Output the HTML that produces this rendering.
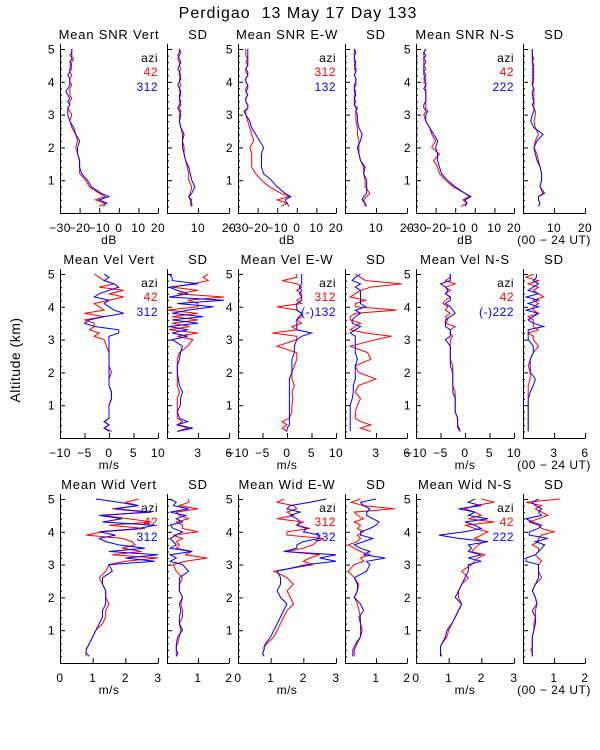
<!DOCTYPE html>
<html><head><meta charset="utf-8">
<style>
html,body{margin:0;padding:0;background:#fff;}
svg{display:block;font-family:"Liberation Sans",sans-serif;}
text{white-space:pre;}
</style></head>
<body>
<svg id="chart" width="600" height="750" viewBox="0 0 600 750" xmlns="http://www.w3.org/2000/svg">
<rect width="600" height="750" fill="#fff"/>
<text x="298" y="18" font-size="16" letter-spacing="1" text-anchor="middle" fill="#000" xml:space="preserve">Perdigao  13 May 17 Day 133</text>
<text x="0" y="0" font-size="14" letter-spacing="0.5" text-anchor="middle" transform="translate(20,360) rotate(-90)" fill="#000">Altitude (km)</text>
<g id="panels"></g>
</svg>
<script>
const altitudes=[0.2,0.3,0.4,0.5,0.6,0.8,1.0,1.2,1.4,1.6,1.8,2.0,2.2,2.4,2.6,2.8,3.0,3.1,3.2,3.3,3.4,3.5,3.6,3.7,3.8,3.9,4.0,4.1,4.2,4.3,4.4,4.5,4.6,4.7,4.8,4.9,5.0];
const altTicks=[1,2,3,4,5];
// Row 1: SNR
const snrVertRed=[-10,-7,-12,-7,-10,-15,-17,-20,-20,-20,-21,-22,-21,-22,-24,-25,-24,-25,-26,-25,-25,-24,-25,-25,-25,-24,-25,-25,-24,-25,-24,-25,-24,-23,-25,-24,-24];
const snrVertBlue=[-8,-6,-10,-5,-9,-14,-16,-19,-20,-20,-21,-21,-20,-22,-23,-25,-26,-26,-26,-25,-26,-25,-26,-27,-26,-25,-25,-25,-26,-25,-25,-24,-25,-24,-24,-24,-24];
const snrVertSdRed=[8,7.5,8,7,7.5,8,7,7,6.5,6,5.5,5.5,5,5,4.5,4,4,4.5,4,4.5,4,4,4.5,4,4,4.5,4,4,4.5,4,4.5,4,4,3.5,4,4.5,4];
const snrVertSdBlue=[8,8,7.5,7,8,9,8,7.5,7,6,5.5,5,5,5.5,4.5,4,4.5,4,3.5,4,4.5,4,4,4.5,4,3.5,4,4.5,4,4,3.5,4,4.5,4,3.5,4,4];
const snrEwRed=[-8,-5,-10,-4,-8,-14,-18,-21,-23,-23,-23,-24,-22,-23,-24,-25,-26,-26,-25,-25,-26,-26,-25,-26,-26,-25,-26,-26,-25,-26,-26,-25,-26,-25,-26,-26,-26];
const snrEwBlue=[-4,-5,-6,-3,-6,-10,-13,-17,-18,-18,-18,-17,-19,-21,-23,-24,-26,-27,-25,-25,-26,-26,-25,-26,-25,-25,-26,-26,-25,-25,-26,-25,-25,-25,-25,-25,-25];
const snrEwSdRed=[7,6.5,6,7,8,6.5,6.5,6,6,5,4.5,4.5,4.5,4,4,3.5,3.5,3.5,3.5,3,3.5,3,3,3.5,3,3.5,3.5,3.5,3,3.5,3,3.5,3,3,3,3,3];
const snrEwSdBlue=[6.5,6.5,5.5,6,7,7,7,6,6.5,5,4.5,4,5,5.5,4.5,4,4,3.5,4,3,3,3,3.5,3,3,3,3.5,3.5,3,3.5,3.5,3,3.5,3,3,3.5,3];
const snrNsRed=[-7,-4,-6,-3,-5,-11,-15,-18,-19,-21,-18,-22,-20,-22,-23,-25,-26,-25,-25,-25,-25,-25,-25,-25,-25,-25,-26,-25,-26,-26,-25,-26,-26,-26,-26,-26,-25];
const snrNsBlue=[-5,-4,-5,-2,-5,-10,-14,-17,-18,-19,-19,-20,-19,-21,-23,-25,-25,-24,-26,-26,-25,-25,-25,-25,-26,-25,-25,-26,-25,-26,-26,-26,-25,-26,-25,-26,-25];
const snrNsSdRed=[5,5.5,5,5,7,5.5,6,6,5.5,5,4.5,3.5,4,5,4,3.5,4,4,3.5,3.5,3.5,3,3.5,3.5,3.5,3,3.5,3,3.5,3,3.5,3,3,3.5,3,3,3];
const snrNsSdBlue=[5,5.5,5,5,6.5,5.5,6,6,5.5,4.5,4,3.5,4.5,6.5,3.5,2.5,3,3.5,3.5,3,3.5,3.5,3,3,3.5,3,3,3.5,3,3.5,3,3.5,3,3,3,3,3];
// Row 2: Velocity
const velVertRed=[0,-1,0,-1,0,0,0,0.5,0.5,0,0,0.5,0,0,0,-0.5,-1,-3,-2,-4,-3,-3,-5,-1,-5,-1,-2,-3,0,3,0,3,-2,1,-1,-2,-3];
const velVertBlue=[0.5,-1,0,-1,0,0,0,0.5,0.5,0,0,0,0,0,0,0,0,0,2,2,-3,-5,-4,-1,3,1,0,-1,0,-3,-2,0,2,1,-1,0,-1];
const velVertSdRed=[1,2,1,1.5,1,1,1,1,1.2,1,1,1,1,1,1.2,2,2.5,1,3,0.2,2.2,0.5,3,0.5,3,0,3,3,2,5.5,1,3,0.5,2.5,4,3.5,4];
const velVertSdBlue=[1,2.5,1,2,1.2,1,1.3,1.3,1.5,1.2,1.1,1,1,1.2,1.3,1.5,0.5,2,0.5,2,0.2,3,0.5,3.5,0.5,2,4.5,1,5.5,0.2,2,1,0.2,3,0.5,0.5,0.2];
const velEwRed=[0,-1,0,-1,0.5,1,1,1.2,1,1.5,1,1,1.5,2,2,-2,2,2,-3,2,1,3,2,3,3,2,-2,3,2,3,3,2,3,2,-1,2,2];
const velEwBlue=[0,0,0.5,0.5,0.5,0.5,0.5,0.5,0.5,0.5,0.5,1,1,1,1.5,1.5,2,3,5,2,2,2,2,2.5,3,2,2,2,3,3,2.5,3,2.5,3,3,3,3];
const velEwSdRed=[2.5,1.5,2.5,1.5,1,1,1.2,1.5,1,1.3,3,1.3,1,2.5,2.2,0.5,3,4.5,2,0.5,1,1.5,0.5,0.5,1,5,1,1,2,0.5,1,1.5,2.5,5.5,2,1.5,1];
const velEwSdBlue=[0.5,0.5,0.5,0.5,0.5,0.5,0.5,0.7,0.8,0.8,1,1,1,1.2,1,1,1,1,0.5,1,1.5,0.7,0.7,1,1.5,1,2,1.5,1.5,1.5,1.5,1.5,1,1.5,0.7,1,1.5];
const velNsRed=[-1,-1.5,-1.5,-1.5,-1.5,-2,-2,-2,-2,-2.5,-2.5,-2.5,-2.5,-3,-3,-3,-3,-2.5,-3,-3,-2,-4,-3.5,-4,-3,-4,-3.5,-4.5,-4,-3,-4,-3,-4,-2,-4,-3,-3];
const velNsBlue=[-1,-1.2,-1.5,-1.5,-1.5,-2,-2,-2,-2.5,-2.5,-2.5,-2.5,-3,-3,-3,-3,-4,-3,-3,-3,-4,-4,-4,-3,-2,-2.5,-3,-4,-3,-3,-4,-3.5,-4,-5,-3,-3,-3];
const velNsSdRed=[0.5,0.5,0.5,0.5,0.5,0.5,0.5,0.5,0.5,0.5,0.7,0.7,0.5,0.7,1,1.5,1,1,0.5,1.5,1,1,1,0.5,1.5,1,1,1.5,1,2,1.5,1,1.5,0.5,1.5,0.3,1];
const velNsSdBlue=[0.5,0.5,0.5,0.5,0.5,0.5,0.5,0.5,0.7,1,1.2,0.7,0.7,0.7,1,1,0.5,0.5,0.5,0.5,2,1,0.5,1,1.5,0.3,1.5,0.5,1.5,0.3,1.5,0.5,1,1.5,1,1.3,1.3];
// Row 3: Width
const widVertRed=[0.8,0.8,0.8,0.85,0.9,1,1.1,1.3,1.4,1.4,1.5,1.4,1.4,1.3,1.2,1.4,1.5,2,3,1.6,2.5,1.9,2.3,2.2,1.9,0.8,1.3,2.6,1.5,2.8,2.1,1.3,2.6,1.6,2.4,2,2.4];
const widVertBlue=[0.9,0.8,0.8,0.85,0.9,1,1.1,1.2,1.3,1.3,1.4,1.4,1.4,1.3,1.3,1.6,1.5,2.9,2,3,1.5,2.6,1.8,1.4,1.2,1.7,1.2,2.4,2.9,1.3,1.9,1.2,2.8,1.7,2.4,1.8,1.1];
const widVertSdRed=[0.3,0.3,0.3,0.3,0.35,0.4,0.45,0.4,0.5,0.5,0.45,0.5,0.4,0.4,0.5,0.3,0.2,0.6,1.3,0.6,0.8,0.3,0.4,0.3,0.5,0.2,1,0.5,0.5,0.3,0.7,0.4,0.3,1,0.4,0.7,0.7];
const widVertSdBlue=[0.3,0.35,0.3,0.3,0.3,0.35,0.5,0.4,0.4,0.45,0.4,0.5,0.4,0.4,0.4,0.7,0.5,0.1,0.3,0.1,0.8,0.1,0.3,0.2,0.1,0.3,0.5,0.2,0.1,0.5,0.3,0.6,0.1,0.7,0.2,0.3,0.1];
const widEwRed=[0.8,0.75,0.8,0.8,0.9,1.1,1.2,1.3,1.4,1.5,1.7,1.6,1.5,1.7,1.5,1.1,2.3,2.0,2.2,2.5,1.5,2.0,2.3,2.4,2.6,1.5,1.5,2.2,1.8,2.0,1.2,1.7,1.5,1.8,1.7,1.2,1.4];
const widEwBlue=[0.8,0.75,0.8,0.8,0.85,1.0,1.1,1.2,1.3,1.4,1.5,1.3,1.2,1.3,1.3,1.2,2.1,3.0,2.5,3.0,1.4,1.8,1.8,2.0,2.5,2.5,2.0,2.1,1.8,1.9,1.8,1.6,1.9,1.5,1.6,2.2,2.7];
const widEwSdRed=[0.3,0.3,0.3,0.35,0.4,0.5,0.5,0.5,0.5,0.45,0.4,0.3,0.4,0.45,0.3,0.1,0.3,0.6,0.5,0.8,0.5,0.3,0.1,0.4,0.5,0.4,0.6,0.4,0.5,0.3,0.6,0.4,0.3,1.6,0.6,0.2,0.5];
const widEwSdBlue=[0.25,0.25,0.25,0.3,0.35,0.5,0.55,0.5,0.45,0.6,0.5,0.3,0.4,0.4,0.3,0.7,0.8,0.7,1.3,0.6,0.8,0.5,0.3,0.6,0.9,0.5,0.5,0.8,1.0,1.1,0.9,0.7,0.7,0.8,0.6,0.5,1.0];
const widNsRed=[0.8,0.75,0.75,0.75,0.8,0.95,1.0,1.1,1.2,1.3,1.4,1.3,1.3,1.4,1.6,1.4,1.7,1.8,1.9,2.1,1.7,1.8,1.9,2.1,1.8,2.0,2.2,1.8,1.5,2.4,1.6,2.0,1.8,1.5,1.8,2.4,2.0];
const widNsBlue=[0.75,0.75,0.75,0.75,0.8,0.9,0.95,1.1,1.2,1.3,1.4,1.2,1.3,1.4,1.5,1.6,1.6,2.0,1.6,2.0,1.6,1.7,1.6,2.2,1.3,0.7,1.5,2.0,1.8,1.5,2.2,1.6,1.8,1.3,2.0,1.6,1.8];
const widNsSdRed=[0.3,0.3,0.25,0.3,0.3,0.3,0.35,0.35,0.4,0.4,0.45,0.4,0.3,0.4,0.6,0.5,0.5,0.6,0.5,0.4,0.5,0.5,0.3,0.5,0.5,0.6,1.0,0.6,0.5,0.2,0.5,0.8,0.6,0.4,0.6,0.1,1.2];
const widNsSdBlue=[0.3,0.3,0.3,0.3,0.3,0.3,0.35,0.4,0.4,0.3,0.45,0.4,0.3,0.4,0.5,0.5,0.5,0.1,0.1,0.4,0.5,0.6,0.7,0.4,0.8,0.2,0.2,0.5,0.6,0.3,0.1,0.6,0.5,0.6,0.4,0.3,0.5];

const snrMeanTicks=[-30,-20,-10,0,10,20];
const snrSdTicks=[10,20];
const velMeanTicks=[-10,-5,0,5,10];
const velSdTicks=[3,6];
const widMeanTicks=[0,1,2,3];
const widSdTicks=[1,2];

const meanTitles=[["Mean SNR Vert","Mean SNR E-W","Mean SNR N-S"],["Mean Vel Vert","Mean Vel E-W","Mean Vel N-S"],["Mean Wid Vert","Mean Wid E-W","Mean Wid N-S"]];
const legendRed=[["42","312","42"],["42","312","42"],["42","312","42"]];
const legendBlue=[["312","132","222"],["312","(-)132","(-)222"],["312","132","222"]];
const units=["dB","m/s","m/s"];

const rows=[
 {y0:213,mean:[-30,20],sd:[0,20],mt:snrMeanTicks,st:snrSdTicks,
  data:[[snrVertRed,snrVertBlue,snrVertSdRed,snrVertSdBlue],[snrEwRed,snrEwBlue,snrEwSdRed,snrEwSdBlue],[snrNsRed,snrNsBlue,snrNsSdRed,snrNsSdBlue]]},
 {y0:438,mean:[-10,10],sd:[0,6],mt:velMeanTicks,st:velSdTicks,
  data:[[velVertRed,velVertBlue,velVertSdRed,velVertSdBlue],[velEwRed,velEwBlue,velEwSdRed,velEwSdBlue],[velNsRed,velNsBlue,velNsSdRed,velNsSdBlue]]},
 {y0:663,mean:[0,3],sd:[0,2],mt:widMeanTicks,st:widSdTicks,
  data:[[widVertRed,widVertBlue,widVertSdRed,widVertSdBlue],[widEwRed,widEwBlue,widEwSdRed,widEwSdBlue],[widNsRed,widNsBlue,widNsSdRed,widNsSdBlue]]}
];
const cols=[[60,158,167,229],[238,336,345,407],[416,514,523,585]];
const kmPx=32.8, axTop=169;
const NS="http://www.w3.org/2000/svg";
const root=document.getElementById("panels");
function mk(tag,attrs,parent){const e=document.createElementNS(NS,tag);for(const k in attrs)e.setAttribute(k,attrs[k]);(parent||root).appendChild(e);return e;}
function txt(x,y,s,anchor,color,size,parent,ls){const t=mk("text",{x:x,y:y,"text-anchor":anchor,fill:color,"font-size":size,"letter-spacing":ls||0.5},parent);t.textContent=s;return t;}

rows.forEach((row,ri)=>{
 const y0=row.y0;
 const yS=a=>y0-a*kmPx;
 cols.forEach((c,ci)=>{
  const panels=[{x1:c[0],x2:c[1],dom:row.mean,ticks:row.mt,kind:"mean"},{x1:c[2],x2:c[3],dom:row.sd,ticks:row.st,kind:"sd"}];
  panels.forEach((p,pi)=>{
   const g=mk("g",{});
   
   
   const xS=v=>p.x1+(v-p.dom[0])/(p.dom[1]-p.dom[0])*(p.x2-p.x1);
   const ax=mk("path",{d:`M${p.x1+0.5},${y0-axTop}V${y0+0.5}H${p.x2+0.5}`,fill:"none",stroke:"#000","stroke-width":1},g);
   
   
   for(let k=1;k<=25;k++){const a=k*0.2;const major=Math.abs(a-Math.round(a))<1e-6;
    mk("line",{x1:p.x1,x2:p.x1+(major?5:2),y1:yS(a)+0.5,y2:yS(a)+0.5,stroke:"#000","stroke-width":1},g);}
   if(p.kind==="mean"){
    altTicks.forEach(a=>{const t=txt(p.x1-5,yS(a)+4.5,String(a),"end","#000",12,g);
     
     });
   }
   p.ticks.forEach(v=>{const x=xS(v);
    mk("line",{x1:x+0.5,x2:x+0.5,y1:y0,y2:y0-5,stroke:"#000","stroke-width":1},g);
    const t=txt(x,y0+19,(v<0?"\u2212":"")+Math.abs(v),"middle","#000",12,g);
    
    });
   const tt=txt((p.x1+p.x2)/2,y0-axTop-5,p.kind==="mean"?meanTitles[ri][ci]:"SD","middle","#000",13,g,0.8);
   
   
   if(p.kind==="mean"){
    const u=txt((p.x1+p.x2)/2,y0+31,units[ri],"middle","#000",12,g);
    
    
    const l0=txt(p.x2,y0-axTop+18,"azi","end","#000",12,g);
    
    
    const l1=txt(p.x2,y0-axTop+32,legendRed[ri][ci],"end","#ff0000",12,g);
    
    
    const l2=txt(p.x2,y0-axTop+47,legendBlue[ri][ci],"end","#0000ff",12,g);
    
    
   }
   const ds=row.data[ci];
   [[ds[pi*2],"#ff0000","red"],[ds[pi*2+1],"#0000ff","blue"]].forEach(([vals,col,nm])=>{
    const pts=vals.map((v,i)=>xS(v).toFixed(1)+","+yS(altitudes[i]).toFixed(1)).join(" ");
    const pl=mk("polyline",{points:pts,fill:"none",stroke:col,"stroke-width":1},g);
    
    
   });
  });
 });
 const ut=txt(554,y0+31,"(00 \u2212 24 UT)","middle","#000",12);
 
 
});
</script>
</body></html>
